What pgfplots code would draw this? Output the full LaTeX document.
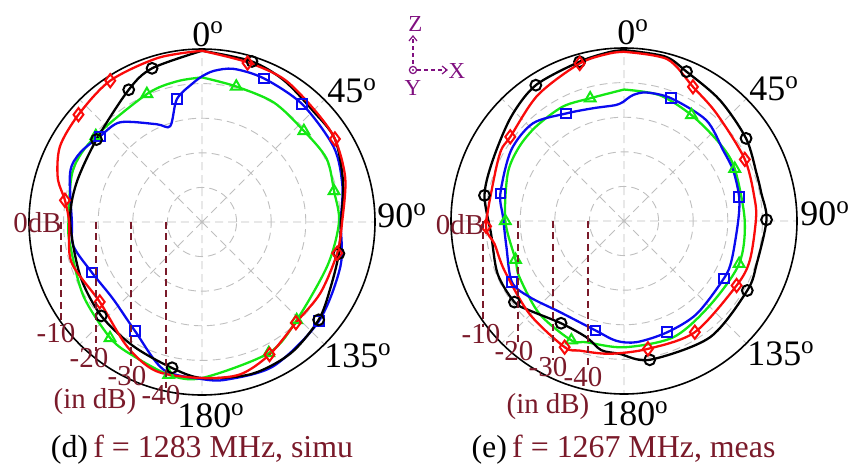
\documentclass[border=0pt]{standalone}
\usepackage{fontspec}
\setmainfont{Liberation Serif}
\usepackage{pgfplots}
\pgfplotsset{compat=1.18}
\usepgfplotslibrary{polar}
\usetikzlibrary{arrows.meta}
\definecolor{dred}{RGB}{122,26,42}
\definecolor{purp}{RGB}{128,16,128}
\definecolor{mgreen}{RGB}{20,232,20}
\definecolor{mblue}{RGB}{10,10,240}
\definecolor{mred}{RGB}{250,10,10}
\pgfplotsset{
  pat/.style={
    anchor=center, width=173bp, height=173bp, scale only axis,
    xmin=0, xmax=360, ymin=0, ymax=50,
    xtick={0,45,...,315}, ytick={10,20,30,40},
    xticklabels={}, yticklabels={},
    xticklabel style={opacity=0}, yticklabel style={opacity=0},
    major tick length=0pt,
    grid=major,
    major grid style={dash pattern=on 4bp off 2.5bp, black!25, line width=0.45bp},
    separate axis lines,
    x axis line style={black, line width=0.8bp},
    y axis line style={draw=none},
    x filter/.expression={90-x}, y filter/.expression={y+50},
    clip=false,
  },
  ln/.style={line width=1.15bp, smooth, no marks},
  mk/.style={only marks, mark options={line width=1bp, solid, fill=none}},
}
\begin{document}
\begin{tikzpicture}
\useasboundingbox (0,0) rectangle (424bp,-233bp);
% ---------------- left: simulation
\begin{polaraxis}[pat, at={(101bp,-111bp)}]
\addplot[ln, mgreen] coordinates {(0,-8.2)(14,-9.6)(31,-9.7)(48,-10.5)(63,-9.6)(77,-10.8)(90,-10.4)(109,-11.6)(136,-10.6)(153,-7.5)(180,-4.9)(192,-4.8)(207,-6.5)(218,-7.2)(238,-9.6)(260,-11.3)(270,-11.4)(292,-9.8)(309,-10.5)(337,-9.7)(350,-8.7)(360,-8.2)};
\addplot[ln, mblue] coordinates {(0,-7.9)(4.4,-6.2)(11.7,-4.8)(23.3,-4.8)(40.4,-5.3)(60.5,-6.2)(75.6,-8.1)(90,-9.9)(107.6,-8.0)(130.3,-5.7)(153.5,-3.5)(171,-3.9)(180,-4.6)(194.6,-5.9)(211.5,-13.0)(228.8,-16.0)(245.3,-15.0)(259.4,-12.2)(270,-12.4)(290.5,-9.3)(299.7,-9.5)(310,-11.5)(320.6,-12.7)(335,-18.8)(341.7,-20.8)(348.5,-13.7)(356.6,-9.6)(360,-7.9)};
\addplot[ln, black] coordinates {(0,-0.5)(17,-1.4)(30,-2.7)(45,-4.6)(58,-4.7)(74,-7.6)(90,-9.8)(103,-9.4)(117,-8.3)(130,-6.0)(146,-4.2)(162,-3.8)(180,-4.9)(192,-7.0)(209,-9.0)(227,-10.2)(246,-11.5)(270,-11.9)(287,-12.0)(308,-11.3)(331,-6.3)(342,-3.3)(360,-0.5)};
\addplot[ln, mred] coordinates {(0,-0.5)(16,-2.0)(30,-2.4)(45,-4.1)(58,-4.7)(73,-6.7)(90,-9.5)(103,-9.9)(121,-10.1)(137,-10.2)(153,-7.0)(166,-4.6)(180,-4.9)(197,-4.9)(211,-8.0)(232,-12.5)(253,-10.5)(270,-11.6)(279,-9.9)(287,-6.4)(298,-3.5)(311,-2.7)(327,-1.3)(345,-0.9)(360,-0.5)};
\addplot[mk, mgreen, mark=triangle, mark size=3.1bp] coordinates {(14.2,-9.6)(48.2,-10.5)(76.8,-10.8)(136,-10.6)(153,-7.5)(192.3,-4.8)(218.4,-7.2)(309,-10.5)(336.7,-9.7)};
\addplot[mk, mblue, mark=square, mark size=2.4bp] coordinates {(23.3,-4.8)(40.4,-5.3)(130.3,-5.7)(211.5,-13.0)(245.3,-15.0)(310,-11.5)(348.5,-13.7)};
\addplot[mk, black, mark=o, mark size=2.7bp] coordinates {(17.3,-1.4)(342,-3.3)(331,-6.3)(308,-11.3)(103,-9.4)(130,-6.0)(227,-10.2)(191.6,-7.0)};
\addplot[mk, mred, mark=diamond, mark size=3.3bp] coordinates {(16,-2.2)(58,-4.7)(103,-9.9)(137,-10.2)(153,-7.0)(232,-12.5)(279,-9.9)(311,-2.7)(327,-1.3)};
\end{polaraxis}
% ---------------- right: measurement
\begin{polaraxis}[pat, at={(312bp,-110.5bp)}]
\addplot[ln, mgreen] coordinates {(0,-12.0)(15.8,-12.2)(32.5,-13.7)(51,-14.4)(64.7,-14.6)(90,-15.1)(110.4,-14.5)(134.6,-15.2)(157,-13.5)(180,-13.5)(197.3,-13.3)(203.8,-12.3)(222.3,-13.7)(241.8,-15.7)(250.4,-16.7)(270,-15.7)(292.2,-13.7)(305,-12.9)(317,-12.7)(331.8,-12.5)(344.6,-13.2)(360,-12.0)};
\addplot[ln, mblue] coordinates {(0,-15.4)(4.1,-13.5)(9.9,-12.3)(21,-12.0)(39.3,-12.4)(54.5,-14.8)(65,-15.2)(78.2,-16.0)(90,-17.0)(110,-16.9)(120,-16.7)(142,-15.9)(158.8,-15.5)(174,-14.8)(183.7,-15.3)(194.5,-17.3)(215.3,-17.8)(231,-15.0)(241.4,-13.1)(257.5,-15.2)(272,-15.0)(282.5,-13.4)(302,-11.5)(317,-11.4)(331.7,-14.7)(344.6,-16.2)(356,-16.4)(360,-15.4)};
\addplot[ln, black] coordinates {(0,-0.6)(14,-1.0)(22.7,-3.2)(38.4,-5.4)(55.9,-7.4)(70.3,-9.3)(78.7,-9.5)(89.5,-8.8)(107.9,-9.7)(119.4,-9.1)(143.6,-8.2)(169.5,-9.2)(182,-11.6)(190,-12.1)(198,-14.7)(211.6,-15.3)(226.6,-12.4)(233.5,-10.6)(247.3,-10.4)(264.5,-11.4)(280.4,-9.0)(294.8,-8.2)(312.7,-5.6)(327,-3.2)(344.4,-2.2)(355,-1.0)(360,-0.6)};
\addplot[ln, mred] coordinates {(0,-1.1)(15,-1.6)(27.2,-6.4)(40.7,-9.0)(63,-10.8)(81,-11.7)(90,-11.9)(107.4,-11.9)(119.8,-12.5)(147.5,-11.9)(169.4,-12.4)(186.2,-11.4)(199,-10.4)(205.2,-9.7)(225.5,-11.7)(247.5,-12.6)(260,-12.0)(267.8,-10.1)(288.8,-10.4)(300,-9.0)(306.5,-9.1)(325.6,-5.9)(344.3,-2.7)(355,-1.4)(360,-1.1)};
\addplot[mk, mgreen, mark=triangle, mark size=3.1bp] coordinates {(344.6,-13.2)(32.5,-13.7)(64.7,-14.6)(110.4,-14.5)(203.8,-12.3)(250.4,-16.7)(270,-15.7)};
\addplot[mk, mblue, mark=square, mark size=2.4bp] coordinates {(21,-12.0)(78.2,-16.0)(120,-16.7)(158.8,-15.5)(194.5,-17.3)(241.4,-13.1)(282.5,-13.4)(331.7,-14.7)};
\addplot[mk, black, mark=o, mark size=2.7bp] coordinates {(22.7,-3.2)(55.9,-7.4)(89.5,-8.8)(119.4,-9.1)(169.5,-9.2)(211.6,-15.3)(233.5,-10.6)(280.4,-9.0)(327,-3.2)(344.4,-2.2)};
\addplot[mk, mred, mark=diamond, mark size=3.3bp] coordinates {(344.3,-2.7)(27.2,-6.4)(63,-10.8)(119.8,-12.5)(147.5,-11.9)(169.4,-12.4)(205.2,-9.7)(306.5,-9.1)(267.8,-10.1)};
\end{polaraxis}
% ---------------- annotations (pixel coordinates of the 848x466 frame)
\begin{scope}[x=0.5bp, y=-0.5bp]
\begin{scope}[font=\fontsize{18}{21}\selectfont, inner sep=0pt]
\node[anchor=base west] at (192,46) {0\textsuperscript{o}};
\node[anchor=base west] at (327,103) {45\textsuperscript{o}};
\node[anchor=base west] at (377,228) {90\textsuperscript{o}};
\node[anchor=base west] at (324,368) {135\textsuperscript{o}};
\node[anchor=base west] at (177,428) {180\textsuperscript{o}};
\node[anchor=base west] at (617,44) {0\textsuperscript{o}};
\node[anchor=base west] at (749,101) {45\textsuperscript{o}};
\node[anchor=base west] at (800,226) {90\textsuperscript{o}};
\node[anchor=base west] at (747,366) {135\textsuperscript{o}};
\node[anchor=base west] at (601,426) {180\textsuperscript{o}};
\end{scope}
\begin{scope}[dred, line width=0.6bp, dash pattern=on 3.5bp off 2.2bp]
\draw (61,222) -- (61,326); \draw (96,222) -- (96,351); \draw (131,222) -- (131,369); \draw (166,222) -- (166,388);
\draw (483,221) -- (483,327); \draw (518,221) -- (518,344); \draw (553,221) -- (553,360); \draw (588,221) -- (588,369);
\end{scope}
\begin{scope}[dred, font=\fontsize{14.5}{17}\selectfont, inner sep=0pt]
\node at (37.5,222.5) {0dB};
\node at (56,333) {-10}; \node at (89,358) {-20}; \node at (127,376) {-30}; \node at (161,395) {-40};
\node at (95,402) {(in dB)};
\node at (460,225) {0dB};
\node at (481,334) {-10}; \node at (514,351) {-20}; \node at (548,367) {-30}; \node at (583,377) {-40};
\node at (548,407) {(in dB)};
\end{scope}
\begin{scope}[font=\fontsize{16}{19}\selectfont, inner sep=0pt]
\node[anchor=base] at (202,458) {(d)\,\textcolor{dred}{f = 1283 MHz, simu}};
\node[anchor=base] at (623.5,458) {(e)\,\textcolor{dred}{f = 1267 MHz, meas}};
\end{scope}
% coordinate system indicator
\begin{scope}[purp, line width=0.6bp]
\draw[dash pattern=on 2bp off 1.5bp, -{Straight Barb[length=2.5bp,width=4bp]}] (413,64) -- (413,35);
\draw[dash pattern=on 2bp off 1.5bp, -{Straight Barb[length=2.5bp,width=4bp]}] (417,70) -- (448,70);
\draw (413,70) circle[radius=1.8bp];
\fill (413,70) circle[radius=0.6bp];
\node[font=\fontsize{11.5}{13}\selectfont, inner sep=0pt] at (415.5,23.5) {Z};
\node[font=\fontsize{11.5}{13}\selectfont, inner sep=0pt] at (457,71) {X};
\node[font=\fontsize{11.5}{13}\selectfont, inner sep=0pt] at (413,88) {Y};
\end{scope}
\end{scope}
\end{tikzpicture}
\end{document}
